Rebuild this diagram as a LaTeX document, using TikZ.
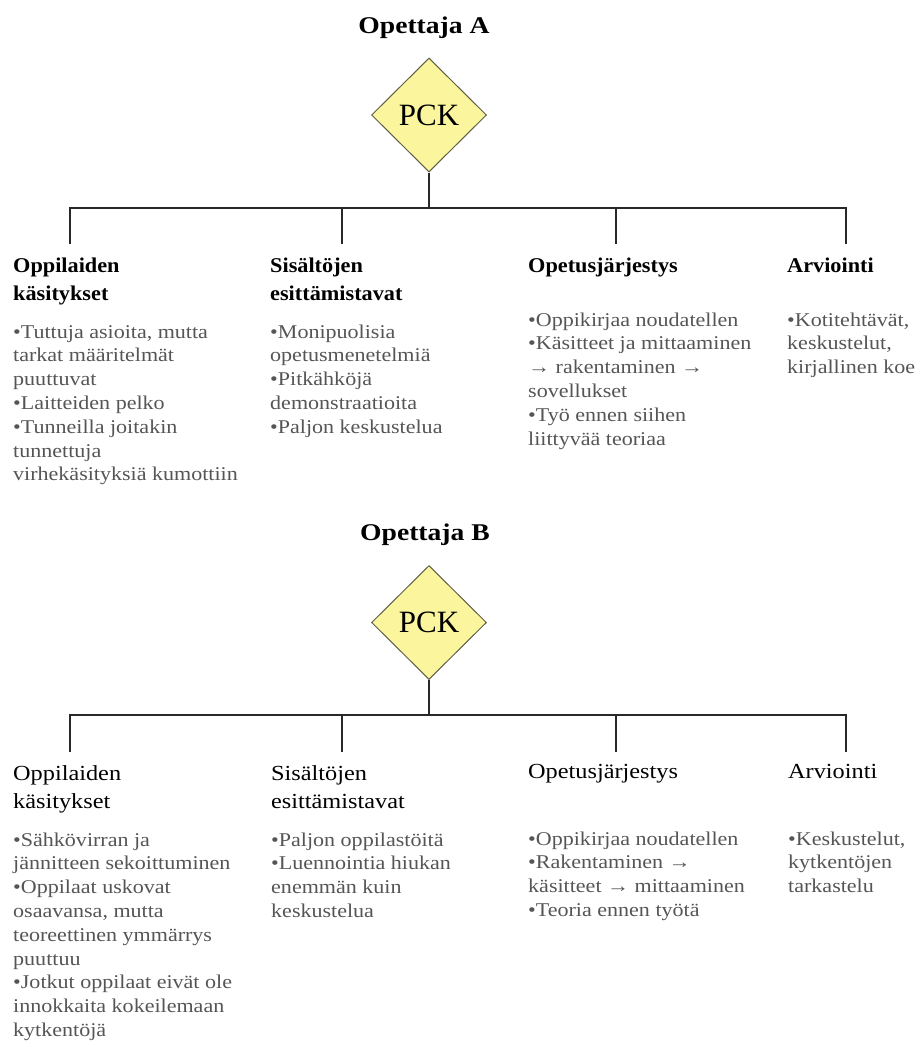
\documentclass[tikz,border=0pt]{standalone}
\usepackage{fontspec}
\setmainfont{Liberation Serif}
\newfontfamily\titlefont{Liberation Serif}[FakeStretch=1.15]
\newfontfamily\headfont{Liberation Serif}[FakeStretch=1.06]
\newfontfamily\bodyfont{Liberation Serif}[FakeStretch=1.13]
\usetikzlibrary{shapes.geometric}

\definecolor{pckfill}{RGB}{251,246,158}
\definecolor{pckline}{RGB}{95,95,70}
\definecolor{bodygray}{RGB}{85,85,85}
\definecolor{treeline}{RGB}{40,40,40}

% stack of lines with a fixed baseline distance; baseline = first line
\newcommand{\stacklines}[2]{\vtop{\baselineskip=#1\lineskiplimit=-30pt\lineskip=0pt #2}}
\newcommand{\row}[1]{\hbox{#1}}

\tikzset{
  titletext/.style={anchor=base, inner sep=0, font=\titlefont\bfseries\fontsize{24}{28}\selectfont},
  pck/.style={diamond, draw=pckline, fill=pckfill, line width=1pt,
    minimum width=115pt, minimum height=114pt, inner sep=0,
    font=\fontsize{31}{36}\selectfont},
  headA/.style={anchor=base west, inner sep=0, font=\headfont\bfseries\fontsize{21}{28}\selectfont},
  headB/.style={anchor=base west, inner sep=0, font=\bodyfont\fontsize{21.5}{28}\selectfont},
  bodytext/.style={anchor=base west, inner sep=0, text=bodygray, font=\bodyfont\fontsize{19.5}{23.8}\selectfont},
  tree/.style={draw=treeline, line width=2pt, line join=miter},
}

\begin{document}
\begin{tikzpicture}[x=1pt,y=-1pt]
\useasboundingbox (0,0) rectangle (919,1047);

% ---------------- Opettaja A ----------------
\node[titletext] (titleA) at (424,33) {Opettaja A};
\node[pck] (pckA) at (429,115) {PCK};

\coordinate (busA)  at (429,208);
\coordinate (busA1) at (70,208);
\coordinate (busA2) at (342,208);
\coordinate (busA3) at (616,208);
\coordinate (busA4) at (846,208);
\coordinate (dropA1) at (70,244);
\coordinate (dropA2) at (342,244);
\coordinate (dropA3) at (616,244);
\coordinate (dropA4) at (846,244);

\draw[tree] (pckA.south) -- (busA);
\draw[tree] (dropA1) -- (busA1) -- (busA4) -- (dropA4);
\draw[tree] (busA2) -- (dropA2);
\draw[tree] (busA3) -- (dropA3);

\node[headA] (headA1) at (13,272) {\stacklines{28pt}{\row{Oppilaiden}\row{käsitykset}}};
\node[headA] (headA2) at (270,272) {\stacklines{28pt}{\row{Sisältöjen}\row{esittämistavat}}};
\node[headA] (headA3) at (528,272) {Opetusjärjestys};
\node[headA] (headA4) at (787,272) {Arviointi};

\node[bodytext] (bodyA1) at (13,338) {\stacklines{23.8pt}{%
  \row{•Tuttuja asioita, mutta}\row{tarkat määritelmät}\row{puuttuvat}%
  \row{•Laitteiden pelko}\row{•Tunneilla joitakin}\row{tunnettuja}%
  \row{virhekäsityksiä kumottiin}}};
\node[bodytext] (bodyA2) at (270,338) {\stacklines{23.8pt}{%
  \row{•Monipuolisia}\row{opetusmenetelmiä}\row{•Pitkähköjä}%
  \row{demonstraatioita}\row{•Paljon keskustelua}}};
\node[bodytext] (bodyA3) at (528,326) {\stacklines{23.8pt}{%
  \row{•Oppikirjaa noudatellen}\row{•Käsitteet ja mittaaminen}%
  \row{→ rakentaminen →}\row{sovellukset}\row{•Työ ennen siihen}%
  \row{liittyvää teoriaa}}};
\node[bodytext] (bodyA4) at (787,326) {\stacklines{23.8pt}{%
  \row{•Kotitehtävät,}\row{keskustelut,}\row{kirjallinen koe}}};

% ---------------- Opettaja B ----------------
\node[titletext] (titleB) at (425,540) {Opettaja B};
\node[pck] (pckB) at (429,622.5) {PCK};

\coordinate (busB)  at (429,715);
\coordinate (busB1) at (70,715);
\coordinate (busB2) at (342,715);
\coordinate (busB3) at (616,715);
\coordinate (busB4) at (846,715);
\coordinate (dropB1) at (70,752);
\coordinate (dropB2) at (342,752);
\coordinate (dropB3) at (616,752);
\coordinate (dropB4) at (846,752);

\draw[tree] (pckB.south) -- (busB);
\draw[tree] (dropB1) -- (busB1) -- (busB4) -- (dropB4);
\draw[tree] (busB2) -- (dropB2);
\draw[tree] (busB3) -- (dropB3);

\node[headB] (headB1) at (13,780) {\stacklines{28pt}{\row{Oppilaiden}\row{käsitykset}}};
\node[headB] (headB2) at (271,780) {\stacklines{28pt}{\row{Sisältöjen}\row{esittämistavat}}};
\node[headB] (headB3) at (528,778) {Opetusjärjestys};
\node[headB] (headB4) at (788,778) {Arviointi};

\node[bodytext] (bodyB1) at (13,846) {\stacklines{23.8pt}{%
  \row{•Sähkövirran ja}\row{jännitteen sekoittuminen}\row{•Oppilaat uskovat}%
  \row{osaavansa, mutta}\row{teoreettinen ymmärrys}\row{puuttuu}%
  \row{•Jotkut oppilaat eivät ole}\row{innokkaita kokeilemaan}\row{kytkentöjä}}};
\node[bodytext] (bodyB2) at (271,846) {\stacklines{23.8pt}{%
  \row{•Paljon oppilastöitä}\row{•Luennointia hiukan}\row{enemmän kuin}%
  \row{keskustelua}}};
\node[bodytext] (bodyB3) at (528,845) {\stacklines{23.8pt}{%
  \row{•Oppikirjaa noudatellen}\row{•Rakentaminen →}%
  \row{käsitteet → mittaaminen}\row{•Teoria ennen työtä}}};
\node[bodytext] (bodyB4) at (788,845) {\stacklines{23.8pt}{%
  \row{•Keskustelut,}\row{kytkentöjen}\row{tarkastelu}}};
\end{tikzpicture}
\end{document}
